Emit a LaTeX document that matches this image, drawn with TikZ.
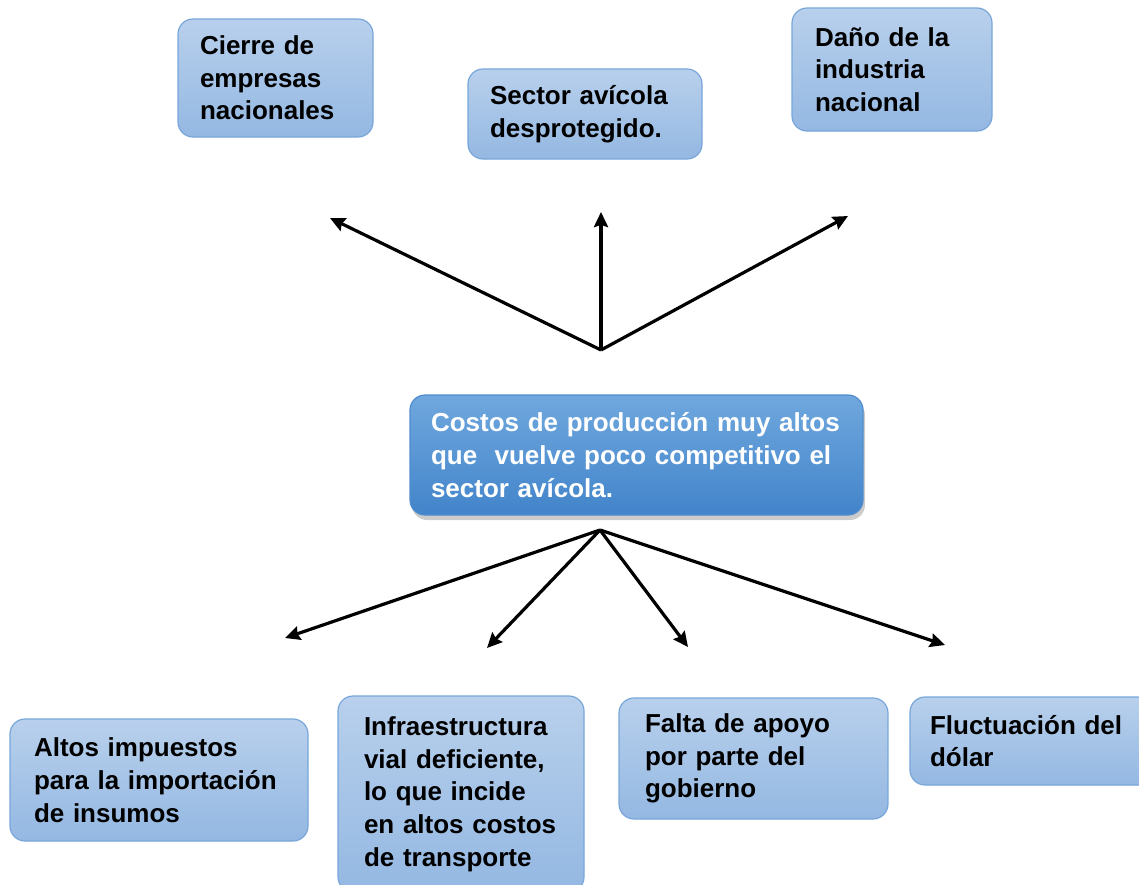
\documentclass[tikz,border=0pt]{standalone}
\usepackage{fontspec}
\setmainfont{Liberation Sans}
\usetikzlibrary{arrows.meta,shadows}
\definecolor{lbtop}{RGB}{184,208,236}
\definecolor{lbbot}{RGB}{148,184,226}
\definecolor{lbline}{RGB}{120,166,218}
\definecolor{dbtop}{RGB}{112,168,222}
\definecolor{dbbot}{RGB}{66,132,202}
\definecolor{dbline}{RGB}{80,140,205}
\tikzset{
  box/.style={draw=lbline, line width=1.2pt, rounded corners=15pt,
    top color=lbtop, bottom color=lbbot, text=black,
    font=\bfseries\fontsize{26}{32.7}\selectfont, align=left,
    inner ysep=0pt},
  mainbox/.style={box, draw=dbline, top color=dbtop, bottom color=dbbot,
    text=white, drop shadow={shadow xshift=2pt, shadow yshift=-5pt, opacity=0.4}},
  arr/.style={line width=3.2pt, -{Stealth[length=15pt,width=14pt,inset=2pt]}}
}
\begin{document}
\begin{tikzpicture}[x=1pt,y=-1pt]
\useasboundingbox (0,0) rectangle (1139,884);

\node[box, minimum width=195pt, minimum height=118pt, inner xsep=22pt, text width=151pt]
  (cierre) at (275.5,78) {Cierre de\\empresas\\nacionales};
\node[box, minimum width=234pt, minimum height=90pt, inner xsep=22pt, text width=190pt]
  (sector) at (585,114) {Sector avícola\\desprotegido.};
\node[box, minimum width=200pt, minimum height=123pt, inner xsep=23pt, text width=154pt]
  (dano) at (892,69.5) {Daño de la\\industria\\nacional};

\node[mainbox, minimum width=453pt, minimum height=120pt, inner xsep=21pt, text width=411pt]
  (central) at (636.5,455) {Costos de producción muy altos\\que\ \ vuelve poco competitivo el\\sector avícola.};

\node[box, minimum width=298pt, minimum height=122pt, inner xsep=24pt, text width=250pt]
  (altos) at (159,780) {Altos impuestos\\para la importación\\de insumos};
\node[box, minimum width=246pt, minimum height=196pt, inner xsep=26pt, text width=194pt]
  (infra) at (461,794) {Infraestructura\\vial deficiente,\\lo que incide\\en altos costos\\de transporte};
\node[box, minimum width=269pt, minimum height=121pt, inner xsep=26pt, text width=217pt]
  (falta) at (753.5,758.5) {Falta de apoyo\\por parte del\\gobierno};
\node[box, minimum width=250pt, minimum height=88pt, inner xsep=20pt, text width=210pt]
  (fluct) at (1035,741) {Fluctuación del\\dólar};

\coordinate (hubT) at (601,350);
\coordinate (tL) at (330,218);
\coordinate (tM) at (601,212);
\coordinate (tR) at (848,216);
\draw[arr] (hubT) -- (tL);
\draw[arr] (hubT) -- (tM);
\draw[arr] (hubT) -- (tR);

\coordinate (hubB) at (600,530);
\coordinate (b1) at (285,638);
\coordinate (b2) at (487,648);
\coordinate (b3) at (688,647);
\coordinate (b4) at (945,645);
\draw[arr] (hubB) -- (b1);
\draw[arr] (hubB) -- (b2);
\draw[arr] (hubB) -- (b3);
\draw[arr] (hubB) -- (b4);
\end{tikzpicture}
\end{document}
